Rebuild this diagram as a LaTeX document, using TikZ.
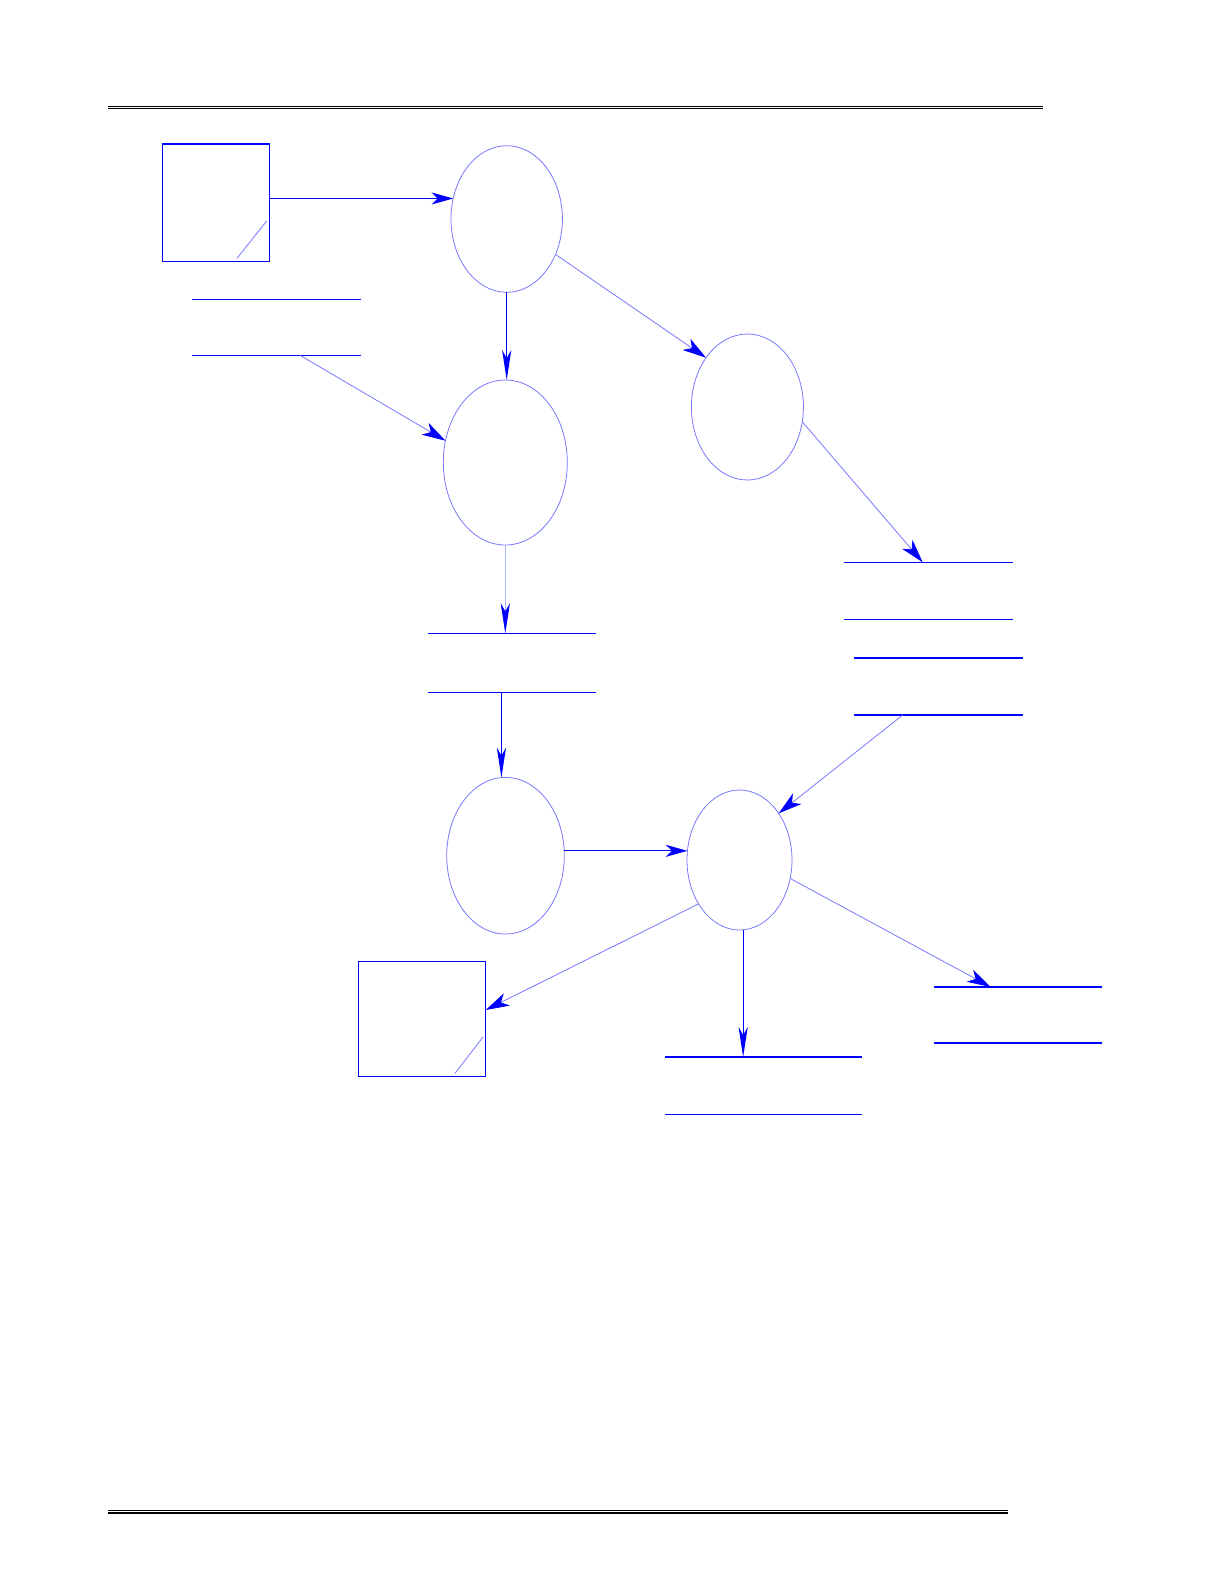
\documentclass[tikz,border=0pt]{standalone}
\usetikzlibrary{arrows.meta,shapes.geometric,calc}
\definecolor{lightblue}{RGB}{120,120,255}
\definecolor{paleblue}{RGB}{170,180,255}
\begin{document}
\begin{tikzpicture}[x=0.5bp,y=-0.5bp,
  dark/.style={draw=blue, line width=0.6bp},
  lite/.style={draw=lightblue, line width=0.4bp},
  pale/.style={draw=paleblue, line width=0.4bp},
  proc/.style={ellipse, draw=lightblue, line width=0.4bp, inner sep=0pt, outer sep=0pt},
  ext/.style={rectangle, draw=blue, line width=0.6bp, inner sep=0pt, outer sep=0pt},
  store/.style={rectangle, inner sep=0pt, outer sep=0pt},
  htip/.style={-{Stealth[length=10.8bp,width=6bp,inset=3bp,color=blue]}},
  vtip/.style={-{Stealth[length=15bp,width=4.6bp,inset=4bp,color=blue]}},
  dtip/.style={-{Stealth[length=11.8bp,width=6.8bp,inset=3.3bp,color=blue]}},
  rule/.style={draw=black}
]
\fill[white] (0,0) rectangle (1225,1585);
\useasboundingbox (0,0) rectangle (1225,1585);

% page rules
\coordinate (t1) at (108,106.3);
\coordinate (t2) at (1043,106.3);
\coordinate (t3) at (108,108.7);
\coordinate (t4) at (1043,108.7);
\draw[rule, line width=0.5bp] (t1) -- (t2);
\draw[rule, line width=0.7bp] (t3) -- (t4);
\coordinate (b1) at (108,1510.6);
\coordinate (b2) at (1008,1510.6);
\coordinate (b3) at (108,1513);
\coordinate (b4) at (1008,1513);
\draw[rule, line width=0.5bp] (b1) -- (b2);
\draw[rule, line width=0.7bp] (b3) -- (b4);

% external entities
\node[ext, minimum width=53.7bp, minimum height=58.65bp] (box1) at (216,202.65) {};
\node[ext, minimum width=63.7bp, minimum height=57.5bp] (box2) at (422,1018.8) {};
\draw[lite] ($(box1.south east)+(-32.7,-3)$) -- ($(box1.south east)+(-3,-40.3)$);
\draw[lite] ($(box2.south east)+(-30.7,-3)$) -- ($(box2.south east)+(-2.4,-39.6)$);

% processes
\node[proc, minimum width=55.7bp, minimum height=73.3bp] (E1) at (506.7,219) {};
\node[proc, minimum width=62bp, minimum height=82.5bp] (E2) at (505.3,462.5) {};
\node[proc, minimum width=56bp, minimum height=73bp] (E3) at (747.4,407) {};
\node[proc, minimum width=58.8bp, minimum height=78.3bp] (E4) at (505.5,855.7) {};
\node[proc, minimum width=52.5bp, minimum height=70bp] (E5) at (739.5,860) {};

% data stores
\node[store, minimum width=84.35bp, minimum height=28bp] (S1) at (276.35,327.3) {};
\node[store, minimum width=83.85bp, minimum height=29.5bp] (S2) at (511.85,662.8) {};
\node[store, minimum width=84.35bp, minimum height=28.5bp] (S3) at (928.35,590.8) {};
\node[store, minimum width=84.35bp, minimum height=28.5bp] (S4) at (938.35,686.5) {};
\node[store, minimum width=98.35bp, minimum height=28.65bp] (S5) at (763.35,1085.65) {};
\node[store, minimum width=84bp, minimum height=28bp] (S6) at (1018,1015) {};
\foreach \s in {S1,S2,S3,S4,S5,S6}{
  \draw[dark] (\s.north west) -- (\s.north east) (\s.south west) -- (\s.south east);
}

% flows
\draw[dark, htip] (box1.east |- E1.159) -- (E1.159);
\draw[dark, vtip] (E1.south) -- (E1.south |- E2.north);
\draw[lite, dtip] (E1.324) -- (E3.130);
\draw[lite, dtip] ($(S1.south)+(23.65,0)$) -- (E2.160);
\draw[pale, vtip] (E2.south) -- (E2.south |- S2.north);
\draw[dark, vtip] (E4.93 |- S2.south) -- (E4.93);
\draw[lite, dtip] (E3.345) -- ($(S3.north)+(-5.65,0)$);
\draw[lite, dtip] ($(S4.south)+(-35.65,0)$) -- (E5.50);
\draw[dark, htip] (E4.east |- E5.170) -- (E5.170);
\draw[lite, dtip] (E5.227) -- ($(box2.east)+(0,-8.8)$);
\draw[dark, vtip] (E5.273) -- (E5.273 |- S5.north);
\draw[lite, dtip] (E5.340) -- ($(S6.north)+(-27.3,0)$);
\end{tikzpicture}
\end{document}
